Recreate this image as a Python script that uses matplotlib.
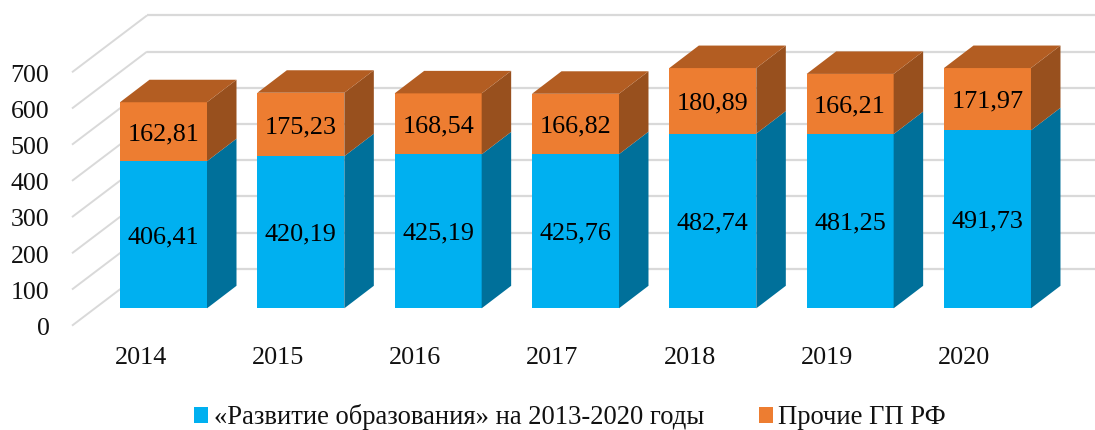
import matplotlib
matplotlib.use('Agg')
import matplotlib.pyplot as plt
from matplotlib.patches import Patch
import numpy as np

plt.rcParams['font.family'] = ['Liberation Serif', 'DejaVu Serif']

years = ['2014', '2015', '2016', '2017', '2018', '2019', '2020']
education = [406.41, 420.19, 425.19, 425.76, 482.74, 481.25, 491.73]
other = [162.81, 175.23, 168.54, 166.82, 180.89, 166.21, 171.97]
education_labels = ['406,41', '420,19', '425,19', '425,76', '482,74', '481,25', '491,73']
other_labels = ['162,81', '175,23', '168,54', '166,82', '180,89', '166,21', '171,97']
y_ticks = [0, 100, 200, 300, 400, 500, 600, 700]

W, H = 1095, 430
# pixels per category and per unit of value
px_x = 137.33
px_y = 0.362
# pixel position of first bar centre and of the zero line of the bars
x0 = 163.5
y0 = 308.3

fig = plt.figure(figsize=(W / 100, H / 100), dpi=100)
ax = fig.add_axes([0, 0, 1, 1])
ax.set_xlim(-x0 / px_x, (W - x0) / px_x)
ax.set_ylim(-(H - y0) / px_y, y0 / px_y)
ax.axis('off')

bar_w = 87 / px_x
depth_x = 29.5 / px_x
depth_y = 22.5 / px_y

# walls: oblique floor/side lines, then the back wall
wall_left = (72 - x0) / px_x
wall_back = (147 - x0) / px_x
wall_right = W / px_x
front_shift = -48
back_shift = 109
for v in y_ticks:
    ax.plot([wall_left, wall_back], [v + front_shift, v + back_shift],
            color='#D9D9D9', lw=1.4, zorder=1, solid_capstyle='butt')
    ax.plot([wall_back, wall_right], [v + back_shift, v + back_shift],
            color='#D9D9D9', lw=1.6, zorder=1, solid_capstyle='butt')
    ax.text(wall_left - 22.5 / px_x, v + front_shift - 9, str(v), ha='right', va='center',
            fontsize=18.6, color='#111111')


def box(x, bottom, top, front, side):
    l = x - bar_w / 2
    r = x + bar_w / 2
    ax.fill([l, r, r, l], [bottom, bottom, top, top], color=front, lw=0, zorder=3)
    ax.fill([r, r + depth_x, r + depth_x, r],
            [bottom, bottom + depth_y, top + depth_y, top], color=side, lw=0, zorder=3)


xs = np.arange(len(years))
for i in xs:
    a = education[i]
    b = other[i]
    box(i, 0, a, '#00B0F0', '#00709A')
    box(i, a, a + b, '#ED7D31', '#98501E')
    l = i - bar_w / 2
    r = i + bar_w / 2
    ax.fill([l, r, r + depth_x, l + depth_x],
            [a + b, a + b, a + b + depth_y, a + b + depth_y], color='#B35D22', lw=0, zorder=3)
    ax.text(i, a / 2 - 7, education_labels[i], ha='center', va='center',
            fontsize=18.8, color='black', zorder=4)
    ax.text(i, a + b / 2 - 7, other_labels[i], ha='center', va='center',
            fontsize=18.8, color='black', zorder=4)
    ax.text(i - 23 / px_x, -(358.5 - y0) / px_y, years[i], ha='center', va='center',
            fontsize=18.8, color='#111111')

handles = [Patch(color='#00B0F0', lw=0, label='«Развитие образования» на 2013-2020 годы'),
           Patch(color='#ED7D31', lw=0, label='Прочие ГП РФ')]
ax.legend(handles=handles, ncol=2, frameon=False, fontsize=19.2, loc='center',
          bbox_to_anchor=(570 / W, 1 - 417.5 / H), handlelength=0.52, handleheight=0.52,
          handletextpad=0.22, columnspacing=2.06, borderpad=0, labelcolor='#111111')

fig.savefig('out.png', dpi=100)
